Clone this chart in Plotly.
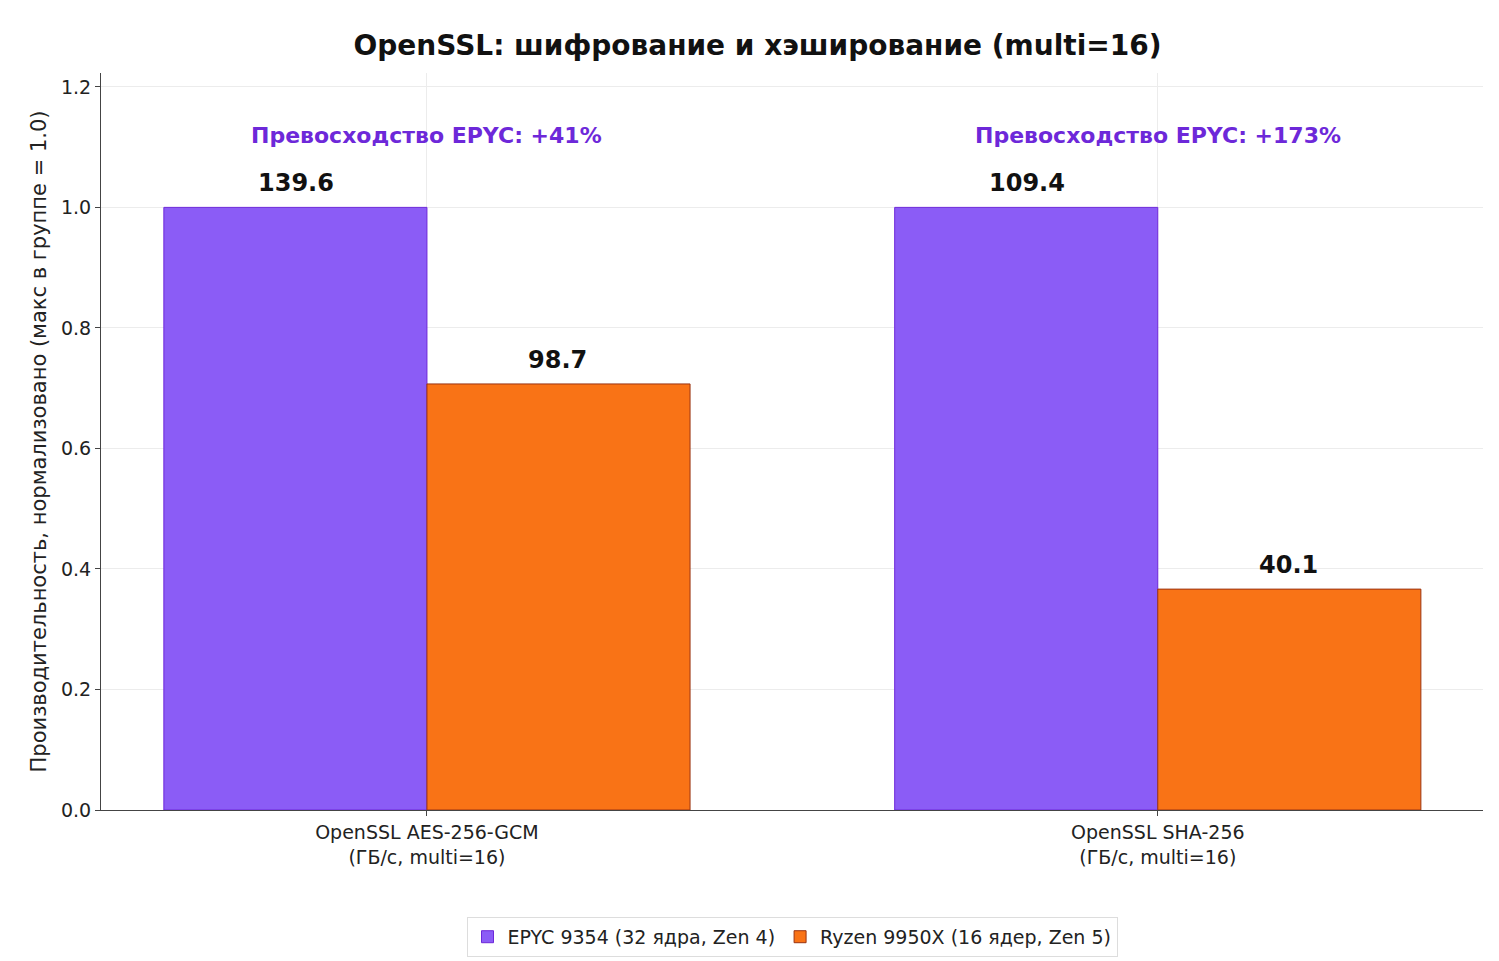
import plotly.graph_objects as go

categories = ["OpenSSL AES-256-GCM<br>(ГБ/с, multi=16)", "OpenSSL SHA-256<br>(ГБ/с, multi=16)"]
epyc_raw = [139.6, 109.4]
ryzen_raw = [98.7, 40.1]
advantage = ["Превосходство EPYC: +41%", "Превосходство EPYC: +173%"]

epyc_norm = [e / max(e, r) for e, r in zip(epyc_raw, ryzen_raw)]
ryzen_norm = [r / max(e, r) for e, r in zip(epyc_raw, ryzen_raw)]
xs = [0, 1]

fig = go.Figure()
fig.add_trace(go.Bar(name="EPYC 9354 (32 ядра, Zen 4)", x=xs, y=epyc_norm,
                     marker=dict(color="#8b5cf6", line=dict(color="#6d28d9", width=1))))
fig.add_trace(go.Bar(name="Ryzen 9950X (16 ядер, Zen 5)", x=xs, y=ryzen_norm,
                     marker=dict(color="#f97316", line=dict(color="#9a3412", width=1))))

# value labels above bars
for x, yn, raw, shift in [(x, y, r, -131) for x, y, r in zip(xs, epyc_norm, epyc_raw)] + \
                         [(x, y, r, 131) for x, y, r in zip(xs, ryzen_norm, ryzen_raw)]:
    fig.add_annotation(x=x, y=yn, text=f"<b>{raw}</b>", showarrow=False, xshift=shift,
                       yanchor="bottom", yshift=8, font=dict(size=24, color="#111"))

for x, t in zip(xs, advantage):
    fig.add_annotation(x=x, y=1.12, text=f"<b>{t}</b>", showarrow=False,
                       font=dict(size=22, color="#6d28d9"))

fig.update_layout(
    width=1499, height=961,
    font=dict(family="DejaVu Sans", size=19, color="#222"),
    title=dict(text="<b>OpenSSL: шифрование и хэширование (multi=16)</b>", x=0.5, y=0.972,
               xanchor="center", font=dict(size=28, color="#111")),
    barmode="group", bargap=0.28, bargroupgap=0,
    plot_bgcolor="white", paper_bgcolor="white",
    margin=dict(l=93, r=24, t=65, b=156),
    showlegend=True,
    legend=dict(orientation="h", x=0.5, xanchor="center", y=-0.145, yanchor="top",
                bordercolor="#ddd", borderwidth=1, font=dict(size=19)),
    xaxis=dict(range=[-0.446, 1.445], tickvals=xs, ticktext=categories,
               showgrid=True, gridcolor="#ececec", showline=True, linecolor="#444",
               ticks="outside", tickfont=dict(size=19)),
    yaxis=dict(range=[0, 1.223], dtick=0.2, tickformat=".1f", showgrid=True,
               gridcolor="#ececec", showline=True, linecolor="#444", ticks="outside",
               zeroline=False, tickfont=dict(size=19),
               title=dict(text="Производительность, нормализовано (макс в группе = 1.0)",
                          font=dict(size=21), standoff=8)),
)

fig.write_html("out.html")
